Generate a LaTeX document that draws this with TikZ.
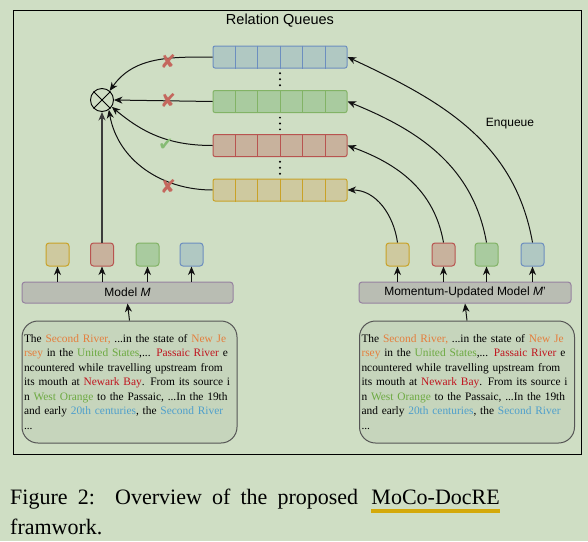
\documentclass[tikz,border=0pt]{standalone}
\usepackage{fontspec}
\setmainfont{Liberation Serif}
\setsansfont{Liberation Sans}
\newfontfamily\symfont{DejaVu Sans}
\usetikzlibrary{positioning,arrows.meta,calc}
\definecolor{paper}     {HTML}{CFDEC4}
\definecolor{ink}       {HTML}{111111}
\definecolor{stem}      {HTML}{3C3C3C}
\definecolor{fillblue}  {HTML}{B0C8C2}
\definecolor{drawblue}  {HTML}{6C8EBF}
\definecolor{fillgreen} {HTML}{A9CB9F}
\definecolor{drawgreen} {HTML}{82B366}
\definecolor{fillred}   {HTML}{C8B29D}
\definecolor{drawred}   {HTML}{B85450}
\definecolor{fillyellow}{HTML}{CEC99F}
\definecolor{drawyellow}{HTML}{C9A227}
\definecolor{modelfill} {HTML}{B9BDB3}
\definecolor{modeldraw} {HTML}{9682A0}
\definecolor{docfill}   {HTML}{C6D5BC}
\definecolor{docdraw}   {HTML}{555555}
\definecolor{crossred}  {HTML}{C4675D}
\definecolor{checkgreen}{HTML}{86BC74}
\definecolor{gold}      {HTML}{D4A90A}
\definecolor{entorange} {HTML}{E57E3C}
\definecolor{entgreen}  {HTML}{6DAA42}
\definecolor{entred}    {HTML}{C0141E}
\definecolor{entblue}   {HTML}{4E9FCC}
\newcommand\ent[2]{\textcolor{#1}{#2}}
\newcommand\jline[1]{\makebox[211pt][s]{#1}\\}
\tikzset{
  >={Stealth[length=8.5pt,width=7pt,inset=2.6pt]},
  every node/.style={font=\sffamily\fontsize{12}{14}\selectfont},
  % --- nodes
  queue/.style    = {draw, rounded corners=2pt, line width=1pt, minimum width=134pt,
                     minimum height=22pt, inner sep=0pt},
  emb/.style      = {draw, rounded corners=3pt, line width=1pt, minimum size=23pt, inner sep=0pt},
  modelbox/.style = {draw=modeldraw, fill=modelfill, rounded corners=3pt, line width=1pt,
                     minimum height=21pt, inner sep=0pt},
  docbox/.style   = {draw=docdraw, fill=docfill, rounded corners=16pt, line width=1pt,
                     minimum height=122pt, inner sep=2pt, text width=211pt, align=left,
                     font=\rmfamily\fontsize{11.4}{14.5}\selectfont},
  nope/.style     = {font=\symfont\fontsize{19}{19}\selectfont, text=crossred, inner sep=0pt},
  okay/.style     = {font=\symfont\fontsize{18}{18}\selectfont, text=checkgreen, inner sep=0pt},
  captext/.style  = {font=\rmfamily\fontsize{22}{26}\selectfont, inner sep=0pt},
  % --- edges
  e/.style        = {->, line width=1pt, draw=ink},
}

\begin{document}
\begin{tikzpicture}[x=1pt,y=1pt]
  \fill[paper] (0,0) rectangle (588,-541);
  \useasboundingbox (0,0) rectangle (588,-541);
  \draw[line width=1pt] (13,-10) rectangle (581,-454);
  \node[font=\sffamily\fontsize{14.5}{16}\selectfont] (title) at (280,-21) {Relation Queues};

  % relation queues
  \foreach \c/\y in {blue/57,green/101.5,red/145.5,yellow/190}{
    \node[queue, draw=draw\c, fill=fill\c] (q\c) at (280,-\y) {};
    \foreach \k in {1,...,5}
      \draw[draw\c, line width=1pt] ($(q\c.north west)!\k/6!(q\c.north east)$)
        -- ($(q\c.south west)!\k/6!(q\c.south east)$);
  }
  \foreach \a/\b in {qblue/qgreen,qgreen/qred,qred/qyellow}
    \foreach \t in {0.22,0.5,0.78}
      \fill ($(\a.south)!\t!(\b.north)$) circle (1.1pt);

  % similarity
  \node[draw, circle, line width=0.9pt, minimum size=23pt, inner sep=0pt] (mix) at (102,-100) {};
  \draw[line width=0.8pt] (mix.north west) -- (mix.south east);
  \draw[line width=0.8pt] (mix.north east) -- (mix.south west);

  \draw[e] (qblue.west) to[out=180,in=55] (mix.50);
  \draw[e] (qgreen.west) -- (mix.east);
  \draw[e] (qred.west) to[out=180,in=-40] (mix.-35);
  \draw[e] (qyellow.west) to[out=180,in=-80] (mix.-55);
  \node[nope] (xblue) at (168,-61) {✘};
  \node[nope] (xgreen) at (168,-100) {✘};
  \node[okay] (tick) at (166,-145) {✔};
  \node[nope] (xyellow) at (168,-186) {✘};

  % models
  \node[modelbox, minimum width=211pt] (model) at (127.5,-292.5) {Model \textit{M}};
  \node[modelbox, minimum width=212pt] (mmodel) at (465,-292.5) {Momentum-Updated Model \textit{M}'};
  \foreach \c/\x [count=\i] in {yellow/57.5,red/102,green/147.5,blue/191.5}{
    \node[emb, draw=draw\c, fill=fill\c] (e\i) at (\x,-254.5) {};
    \draw[e] (e\i |- model.north) -- (e\i.south);
  }
  \foreach \c/\x [count=\i] in {yellow/397.5,red/443.5,green/486.5,blue/532.5}{
    \node[emb, draw=draw\c, fill=fill\c] (f\i) at (\x,-254.5) {};
    \draw[e] (f\i |- mmodel.north) -- (f\i.south);
  }
  \draw[->, line width=1.2pt, draw=stem] (e2.north) -- (mix.south);

  % enqueue
  \draw[e] (f1.north) to[out=98,in=0] (qyellow.east);
  \draw[e] (f2.north) to[out=100,in=-20] (qred.east);
  \draw[e] (f3.north) to[out=100,in=-22] (qgreen.east);
  \draw[e] (f4.north) to[out=100,in=-25] (qblue.east);
  \node (enq) at (510,-124) {Enqueue};

  % documents
  \foreach \n/\x/\m in {doc/129.5/model,mdoc/467/mmodel}{
    \node[docbox, minimum width=215pt] (\n) at (\x,-382) {%
      \jline{The \ent{entorange}{Second River,} ...in the state of \ent{entorange}{New Je}}
      \jline{\ent{entorange}{rsey} in the \ent{entgreen}{United States},... \ent{entred}{Passaic River} e}
      \jline{ncountered while travelling upstream from}
      \jline{its mouth at \ent{entred}{Newark Bay}. From its source i}
      \jline{n \ent{entgreen}{West Orange} to the Passaic, ...In the 19th}
      \jline{and early \ent{entblue}{20th centuries}, the \ent{entblue}{Second River}}
      ...};
    \draw[e] (\n.north) -- (\m.south);
  }

  % caption
  \node[captext, anchor=base west] (capa) at (10,-504) {\makebox[348pt][s]{Figure 2:\ \ Overview of the proposed}};
  \node[captext, anchor=base east] (capname) at (500,-504) {MoCo-DocRE};
  \node[captext, anchor=base west] (capb) at (10,-534) {framwork.};
  \draw[line width=4pt, draw=gold] ([yshift=-6.5pt]capname.base west) -- ([yshift=-6.5pt]capname.base east);
\end{tikzpicture}
\end{document}
